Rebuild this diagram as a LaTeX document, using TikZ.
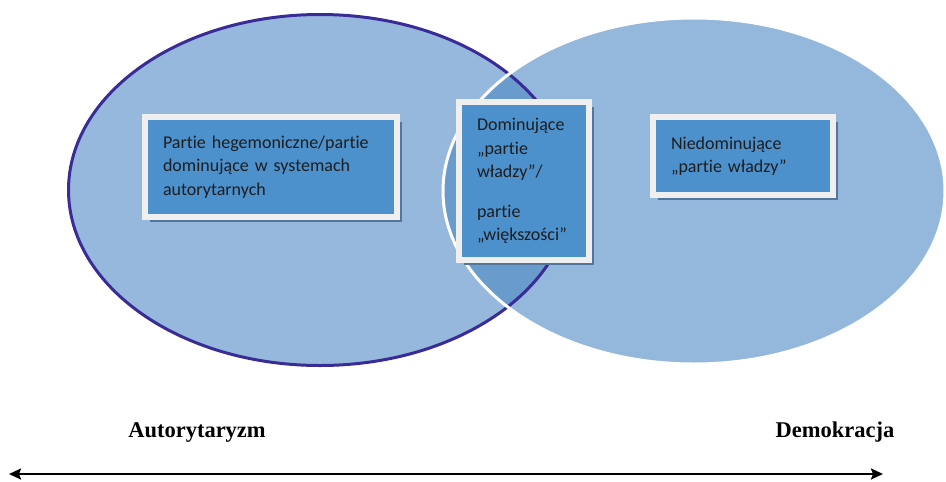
\documentclass[tikz,border=0pt]{standalone}
\usepackage{fontspec}
\setmainfont{Liberation Serif}
\newfontfamily\calibfont[Ligatures=NoCommon]{Carlito}
\usetikzlibrary{shadows,arrows.meta}

\definecolor{setfill}{RGB}{150,184,220}
\definecolor{setfilltop}{RGB}{77,136,196}
\definecolor{setedge}{RGB}{58,44,150}
\definecolor{boxblue}{RGB}{76,144,204}
\definecolor{boxframe}{RGB}{239,239,239}
\definecolor{boxshadow}{RGB}{84,118,158}
\definecolor{boxtext}{RGB}{30,30,30}

\tikzset{
  partybox/.style={draw=boxframe,line width=6pt,fill=boxblue,
    text=boxtext,align=left,inner xsep=18pt,inner ysep=0pt,
    font=\calibfont\fontsize{18}{23.5}\selectfont,
    drop shadow={shadow xshift=5pt,shadow yshift=-5pt,fill=boxshadow,opacity=1}},
  poleword/.style={font=\bfseries\fontsize{22.5}{27}\selectfont},
  axisline/.style={line width=2.2pt,
    {Stealth[length=12pt,width=11pt,inset=2pt]}-{Stealth[length=12pt,width=11pt,inset=2pt]}}
}

\begin{document}
\begin{tikzpicture}[x=1pt,y=-1pt]
\useasboundingbox (0,0) rectangle (946,482);

% the two sets
\fill[setfill] (320,190) ellipse [x radius=251.5, y radius=175.5];
\fill[setfilltop,opacity=0.6] (694,191) ellipse [x radius=251, y radius=173];
\draw[setedge,line width=3pt] (320,190) ellipse [x radius=251.5, y radius=175.5];
\draw[white,line width=3pt] (694,191) ellipse [x radius=251, y radius=173];

% boxes
\node[partybox,text width=216pt,minimum height=100pt] (hegem) at (271,167)
  {Partie hegemoniczne/partie\\dominujące w systemach\\autorytarnych};
\node[partybox,text width=94pt,minimum height=158pt] (domin) at (524,181)
  {Dominujące\\„partie\\władzy”/\\[16pt]partie\\„większości”};
\node[partybox,text width=144pt,minimum height=78pt] (niedom) at (743,156)
  {Niedominujące\\„partie władzy”};

% scale
\node[poleword] (autor) at (197,432) {Autorytaryzm};
\node[poleword] (demok) at (835,432) {Demokracja};
\coordinate (axleft) at (9,474);
\coordinate (axright) at (883,474);
\draw[axisline] (axleft) -- (axright);
\end{tikzpicture}
\end{document}
